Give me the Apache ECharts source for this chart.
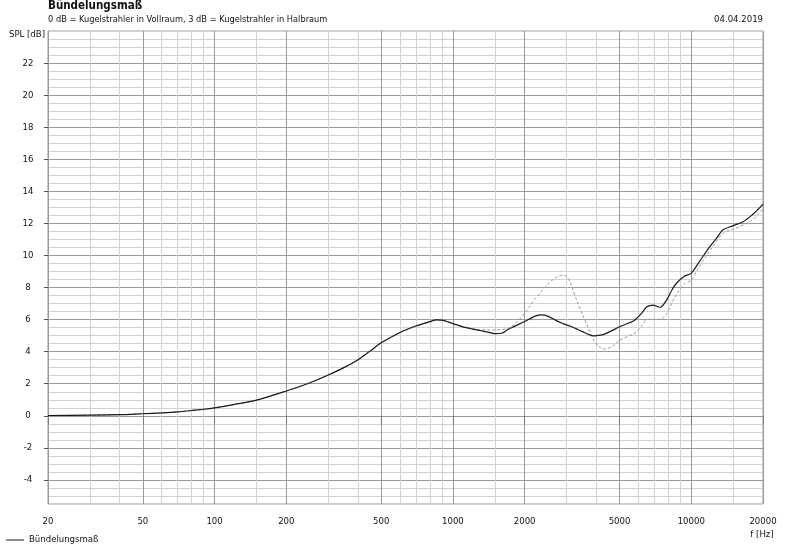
<!DOCTYPE html>
<html>
<head>
<meta charset="utf-8">
<script src="https://cdn.jsdelivr.net/npm/echarts@6/dist/echarts.min.js"></script>
<style>html,body{margin:0;padding:0;background:#fff}#c{width:800px;height:553px}</style>
</head>
<body>
<div id="c"></div>
<script>
const freq = [20,30,40,50,60,70,80,90,100,120,150,200,250,300,350,400,450,500,600,700,800,850,900,1000,1100,1200,1300,1400,1500,1600,1700,1800,2000,2200,2350,2500,2700,2900,3000,3100,3300,3500,3650,3900,4100,4300,4600,5000,5500,5800,6200,6500,6900,7400,7900,8300,8700,9300,10000,10800,11900,12800,13600,15000,16500,18000,19000,20000];
const solidDb = [0.02,0.04,0.07,0.13,0.18,0.24,0.33,0.41,0.5,0.7,0.98,1.55,2.05,2.55,3.02,3.5,4.05,4.55,5.2,5.6,5.87,5.98,5.97,5.75,5.55,5.42,5.32,5.22,5.13,5.15,5.38,5.56,5.88,6.2,6.29,6.22,5.95,5.75,5.67,5.6,5.42,5.25,5.12,4.98,5.02,5.08,5.28,5.55,5.8,5.98,6.4,6.78,6.9,6.77,7.25,7.85,8.3,8.68,8.9,9.6,10.5,11.1,11.6,11.86,12.1,12.52,12.85,13.2];
const dashedDb = [0.02,0.04,0.07,0.13,0.18,0.24,0.33,0.41,0.5,0.7,0.98,1.55,2.05,2.55,3.02,3.5,4.05,4.55,5.2,5.6,5.87,5.98,5.97,5.75,5.55,5.45,5.38,5.35,5.36,5.38,5.45,5.67,6.4,7.25,7.75,8.2,8.62,8.78,8.68,8.35,7.25,6.3,5.67,4.73,4.3,4.16,4.28,4.7,5.0,5.15,5.6,6.0,6.02,6.02,6.4,7.05,7.6,8.2,8.47,9.3,10.25,10.9,11.4,11.63,11.9,12.2,12.55,12.94];
const xLabelTicks = [20,50,100,200,500,1000,2000,5000,10000,20000];
const xMinorTicks = [30,40,60,70,80,90,150,300,400,600,700,800,900,1500,3000,4000,6000,7000,8000,9000,15000];
const yLabelTicks = [-4,-2,0,2,4,6,8,10,12,14,16,18,20,22];
const seriesName = 'Bündelungsmaß';
const titleText = 'Bündelungsmaß';
const subText = '0 dB = Kugelstrahler in Vollraum, 3 dB = Kugelstrahler in Halbraum';
const dateText = '04.04.2019';
const yName = 'SPL [dB]';
const xName = 'f [Hz]';

const FONT = "'DejaVu Sans Condensed','Liberation Sans',sans-serif";
const FS = 9.5;
const chart = echarts.init(document.getElementById('c'), null, {renderer:'canvas'});
const pair = a => freq.map((f,i)=>[f,a[i]]);
const txt = (x,y,t,align,font) => ({type:'text', x:x, y:y, silent:true, style:{text:t, x:0, y:0, font:font||(FS+'px '+FONT), fill:'#111', align:align, textAlign:align, verticalAlign:'middle', textVerticalAlign:'middle'}});

chart.setOption({
  animation:false,
  backgroundColor:'#fff',
  grid:{left:48,right:37,top:31,bottom:49,show:true,borderColor:'#999',borderWidth:1,backgroundColor:'transparent'},
  xAxis:[
    {type:'log',logBase:10,min:20,max:20000,position:'bottom',
     axisLine:{show:false},axisLabel:{show:false},
     axisTick:{show:false,customValues:xMinorTicks},
     splitLine:{show:true,lineStyle:{color:'#d2d2d2',width:1}}},
    {type:'log',logBase:10,min:20,max:20000,position:'bottom',
     axisLine:{show:false},
     axisTick:{show:true,customValues:xLabelTicks,length:8,lineStyle:{color:'#777'}},
     axisLabel:{show:true,customValues:xLabelTicks,margin:13,fontSize:FS,fontFamily:FONT,color:'#111',
       formatter:v=>String(Math.round(v))},
     splitLine:{show:true,lineStyle:{color:'#999',width:1}}}
  ],
  yAxis:[
    {type:'value',min:-5.5,max:24,interval:0.5,position:'left',
     axisLine:{show:false},axisLabel:{show:false},axisTick:{show:false},
     splitLine:{show:true,lineStyle:{color:'#d2d2d2',width:1}}},
    {type:'value',min:-5.5,max:24,position:'left',
     axisLine:{show:false},
     axisTick:{show:true,customValues:yLabelTicks,length:4,lineStyle:{color:'#555'}},
     axisLabel:{show:true,customValues:yLabelTicks,margin:20,align:'center',fontSize:FS,fontFamily:FONT,color:'#111'},
     splitLine:{show:true,lineStyle:{color:'#999',width:1}}}
  ],
  legend:{data:[{name:seriesName,icon:'rect'}],left:6,top:535,padding:0,itemWidth:18,itemHeight:1,itemGap:5,
    itemStyle:{color:'#1a1a1a'},
    textStyle:{fontSize:FS,fontFamily:FONT,color:'#111',padding:[0,0,0,0]}},
  series:[
    {name:'Bündelungsmaß (Halbraum)',type:'line',xAxisIndex:1,yAxisIndex:1,data:pair(dashedDb),
     showSymbol:false,symbol:'none',smooth:0.3,lineStyle:{color:'#9a9a9a',width:1,type:[3,2]},z:3},
    {name:seriesName,type:'line',xAxisIndex:1,yAxisIndex:1,data:pair(solidDb),
     showSymbol:false,symbol:'none',smooth:0.3,lineStyle:{color:'#1a1a1a',width:1.2},itemStyle:{color:'#1a1a1a'},z:4}
  ],
  graphic:[
    txt(48,6.5,titleText,'left','bold 11.5px '+FONT),
    txt(48,20,subText,'left',(9.2)+'px '+FONT),
    txt(763,20,dateText,'right'),
    txt(45,35,yName,'right'),
    txt(762,535,xName,'center')
  ]
});
</script>
</body>
</html>
